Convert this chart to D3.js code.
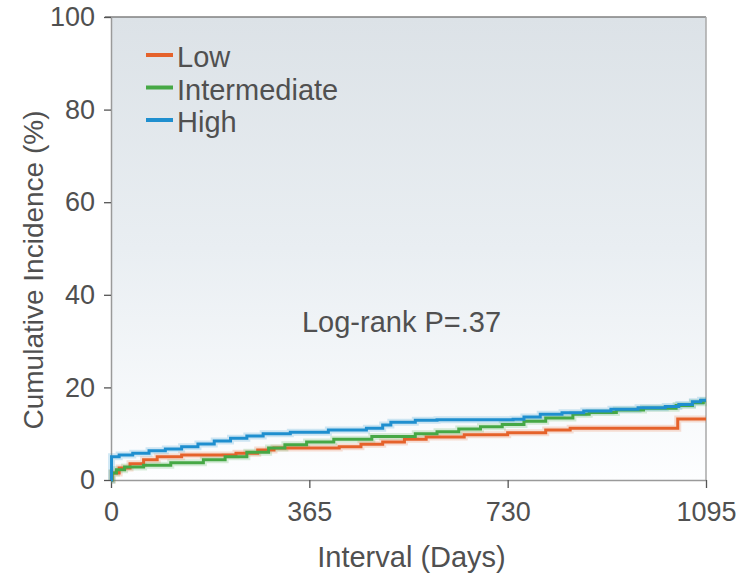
<!DOCTYPE html>
<html lang="en">
<head>
    <meta charset="UTF-8">
    <title>Cumulative Incidence</title>
    <script src="https://d3js.org/d3.v7.min.js"></script>
    <style>
        body { margin: 0; background: #fff; font-family: "Liberation Sans", Arial, sans-serif; }
        svg text { fill: #505050; }
    </style>
</head>
<body>
    <div id="chart"></div>
    <script>
        // Kaplan-Meier style curves: [day, cumulative incidence %]
        const lowCurve = [[0,0],[2,1.5],[15,2.6],[35,3.5],[60,4.4],[85,5.0],[130,5.4],[230,5.8],[270,6.5],[300,6.9],
            [420,7.2],[460,7.7],[500,8.2],[540,8.8],[580,9.3],[650,9.8],[730,10.2],[800,10.8],[845,11.2],[1040,11.2],[1043,13.2],[1095,13.2]];
        const intermediateCurve = [[0,0],[2,1.5],[10,2.2],[25,2.8],[60,3.2],[110,3.7],[170,4.4],[210,5.0],[250,6.0],[290,6.9],
            [320,7.6],[360,8.2],[410,8.8],[480,9.4],[560,10.0],[600,10.4],[640,11.0],[680,11.5],[720,12.0],[760,12.7],
            [800,13.4],[850,14.2],[880,14.6],[930,15.1],[980,15.5],[1040,16.1],[1070,16.7],[1090,17.1],[1095,17.1]];
        const highCurve = [[0,0],[1,5.0],[15,5.4],[40,5.8],[70,6.3],[100,6.7],[130,7.2],[160,7.8],[190,8.4],[220,9.0],
            [250,9.5],[280,10.0],[330,10.3],[400,10.8],[470,11.2],[500,11.9],[515,12.5],[560,12.9],[600,13.0],[740,13.1],
            [760,13.6],[790,14.2],[830,14.5],[870,14.9],[920,15.3],[970,15.6],[1020,15.9],[1045,16.3],[1070,16.9],[1085,17.2],[1095,17.2]];

        const seriesNames = ["Low", "Intermediate", "High"];
        const seriesColors = ["#e5622b", "#46a845", "#1f8fcf"];
        const xTicks = [0, 365, 730, 1095];
        const yTicks = [0, 20, 40, 60, 80, 100];
        const pValueLabel = "Log-rank P=.37";

        const W = 750, H = 576;
        const margin = {top: 17, right: 44, bottom: 96, left: 111};
        const width = W - margin.left - margin.right;   // 595
        const height = H - margin.top - margin.bottom;  // 463

        const svg = d3.select("#chart").append("svg")
            .attr("width", W).attr("height", H);

        // background gradient of the plot area
        const defs = svg.append("defs");
        const grad = defs.append("linearGradient")
            .attr("id", "bg").attr("x1", 0).attr("y1", 0).attr("x2", 0).attr("y2", 1);
        grad.append("stop").attr("offset", "0%").attr("stop-color", "#dce2e7");
        grad.append("stop").attr("offset", "50%").attr("stop-color", "#e9eef2");
        grad.append("stop").attr("offset", "100%").attr("stop-color", "#fdfeff");

        const g = svg.append("g")
            .attr("transform", `translate(${margin.left},${margin.top})`);

        const x = d3.scaleLinear().domain([0, 1095]).range([0, width]);
        const y = d3.scaleLinear().domain([0, 100]).range([height, 0]);

        g.append("rect")
            .attr("width", width).attr("height", height)
            .attr("fill", "url(#bg)");

        // frame: top and right
        g.append("line").attr("x1", -6).attr("x2", width).attr("y1", 0).attr("y2", 0)
            .attr("stroke", "#808080").attr("stroke-width", 1.5);
        g.append("line").attr("x1", width).attr("x2", width).attr("y1", 0).attr("y2", height)
            .attr("stroke", "#a8a8a8").attr("stroke-width", 1.5);

        // axes
        const xAxis = g.append("g")
            .attr("transform", `translate(0,${height})`)
            .call(d3.axisBottom(x).tickValues(xTicks).tickFormat(d3.format("d"))
                .tickSize(8).tickPadding(14).tickSizeOuter(0));
        const yAxis = g.append("g")
            .call(d3.axisLeft(y).tickValues(yTicks).tickSize(7).tickPadding(9).tickSizeOuter(0));

        [xAxis, yAxis].forEach(a => {
            a.select(".domain").attr("stroke", "#9a9a9a").attr("stroke-width", 1.5);
            a.selectAll(".tick line").attr("stroke", "#555").attr("stroke-width", 1.3);
            a.selectAll(".tick text")
                .style("font-family", "'Liberation Sans', Arial, sans-serif")
                .style("font-size", "27px").attr("fill", "#505050");
        });

        // curves
        const line = d3.line()
            .x(d => x(d[0]))
            .y(d => y(d[1]))
            .curve(d3.curveStepAfter);

        const curves = [lowCurve, intermediateCurve, highCurve];
        curves.forEach((c, i) => {
            g.append("path").datum(c)
                .attr("fill", "none")
                .attr("stroke", seriesColors[i])
                .attr("stroke-opacity", 0.2)
                .attr("stroke-width", 7)
                .attr("d", line);
        });
        curves.forEach((c, i) => {
            g.append("path").datum(c)
                .attr("fill", "none")
                .attr("stroke", seriesColors[i])
                .attr("stroke-width", 3)
                .attr("d", line);
        });

        // legend
        const legend = g.append("g").attr("transform", "translate(35,38)");
        seriesNames.forEach((name, i) => {
            const row = legend.append("g").attr("transform", `translate(0,${i * 32.5})`);
            row.append("line").attr("x1", 0).attr("x2", 27).attr("y1", 0).attr("y2", 0)
                .attr("stroke", seriesColors[i]).attr("stroke-width", 4);
            row.append("text").attr("x", 31).attr("y", 12)
                .style("font-size", "29px").text(name);
        });

        // p-value
        g.append("text")
            .attr("x", width / 2 - 7).attr("y", 315)
            .attr("text-anchor", "middle")
            .style("font-size", "29px")
            .text(pValueLabel);

        // axis titles
        svg.append("text")
            .attr("x", margin.left + width / 2 + 3).attr("y", 567)
            .attr("text-anchor", "middle")
            .style("font-size", "29px")
            .text("Interval (Days)");

        svg.append("text")
            .attr("transform", "rotate(-90)")
            .attr("x", -270).attr("y", 43)
            .attr("text-anchor", "middle")
            .style("font-size", "28px")
            .text("Cumulative Incidence (%)");
    </script>
</body>
</html>
